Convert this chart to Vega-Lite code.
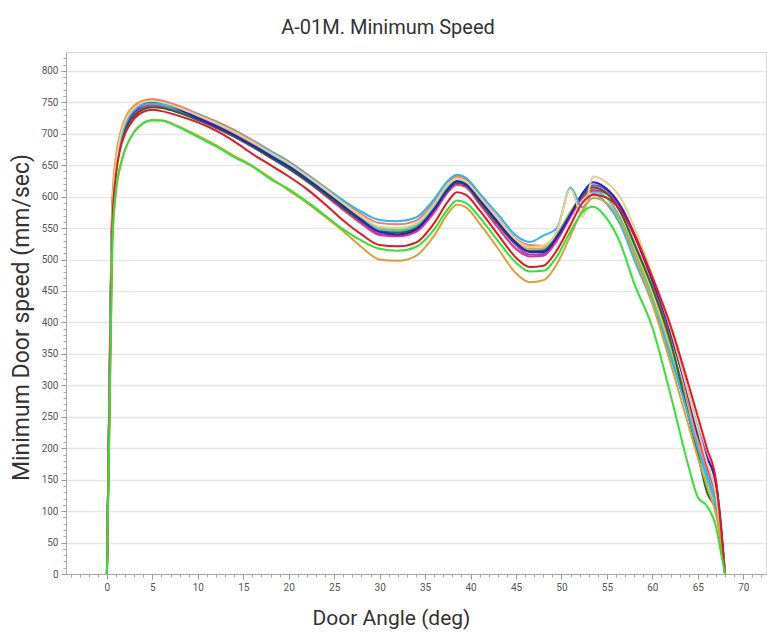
{
  "$schema": "https://vega.github.io/schema/vega-lite/v6.json",
  "width": 700,
  "height": 522,
  "autosize": "none",
  "padding": {"left": 66, "top": 52, "right": 1, "bottom": 60},
  "background": "white",
  "title": {"text": "A-01M. Minimum Speed", "font": "Roboto", "fontSize": 20, "fontWeight": "normal", "color": "#333333", "anchor": "middle", "dx": -28, "dy": 21, "baseline": "alphabetic", "offset": 19},
  "config": {"view": {"stroke": "#d8d8d8", "strokeWidth": 1}},
  "datasets": {
    "speed": [
      {"x": 0, "Khaki": 0, "Yellow": 0, "Orange": 0, "Salmon": 0, "Turquoise": 0, "Cyan": 0, "Purple": 0, "Pink": 0, "DarkGreen": 0, "Blue": 0, "Goldenrod": 0, "Red": 0, "Lime": 0},
      {"x": 0.3, "Khaki": 320, "Yellow": 300, "Orange": 335, "Salmon": 330, "Turquoise": 305, "Cyan": 310, "Purple": 310, "Pink": 305, "DarkGreen": 300, "Blue": 320, "Goldenrod": 250, "Red": 290, "Lime": 260},
      {"x": 0.6, "Khaki": 585, "Yellow": 570, "Orange": 595, "Salmon": 590, "Turquoise": 575, "Cyan": 578, "Purple": 575, "Pink": 572, "DarkGreen": 570, "Blue": 580, "Goldenrod": 525, "Red": 560, "Lime": 530},
      {"x": 1, "Khaki": 655, "Yellow": 645, "Orange": 665, "Salmon": 660, "Turquoise": 646, "Cyan": 648, "Purple": 648, "Pink": 645, "DarkGreen": 640, "Blue": 650, "Goldenrod": 608, "Red": 635, "Lime": 610},
      {"x": 1.5, "Khaki": 697, "Yellow": 688, "Orange": 703, "Salmon": 700, "Turquoise": 688, "Cyan": 690, "Purple": 690, "Pink": 686, "DarkGreen": 682, "Blue": 690, "Goldenrod": 650, "Red": 678, "Lime": 650},
      {"x": 2, "Khaki": 720, "Yellow": 712, "Orange": 725, "Salmon": 722, "Turquoise": 711, "Cyan": 714, "Purple": 713, "Pink": 708, "DarkGreen": 705, "Blue": 712, "Goldenrod": 675, "Red": 700, "Lime": 675},
      {"x": 3, "Khaki": 741, "Yellow": 736, "Orange": 745, "Salmon": 743, "Turquoise": 734, "Cyan": 737, "Purple": 737, "Pink": 731, "DarkGreen": 728, "Blue": 735, "Goldenrod": 703, "Red": 724, "Lime": 703},
      {"x": 4, "Khaki": 750, "Yellow": 746, "Orange": 753, "Salmon": 752, "Turquoise": 744, "Cyan": 746, "Purple": 748, "Pink": 742, "DarkGreen": 739, "Blue": 746, "Goldenrod": 717, "Red": 735, "Lime": 717},
      {"x": 5, "Khaki": 752, "Yellow": 748, "Orange": 755, "Salmon": 755, "Turquoise": 746, "Cyan": 748, "Purple": 752, "Pink": 745, "DarkGreen": 742, "Blue": 750, "Goldenrod": 721, "Red": 738, "Lime": 722},
      {"x": 6, "Khaki": 750, "Yellow": 746, "Orange": 752, "Salmon": 753, "Turquoise": 744, "Cyan": 747, "Purple": 750, "Pink": 743, "DarkGreen": 741, "Blue": 748, "Goldenrod": 721, "Red": 736, "Lime": 721},
      {"x": 8, "Khaki": 741, "Yellow": 738, "Orange": 742, "Salmon": 744, "Turquoise": 736, "Cyan": 740, "Purple": 740, "Pink": 734, "DarkGreen": 733, "Blue": 738, "Goldenrod": 711, "Red": 728, "Lime": 710},
      {"x": 10, "Khaki": 729, "Yellow": 727, "Orange": 729, "Salmon": 732, "Turquoise": 724, "Cyan": 730, "Purple": 727, "Pink": 722, "DarkGreen": 722, "Blue": 725, "Goldenrod": 697, "Red": 718, "Lime": 695},
      {"x": 12, "Khaki": 717, "Yellow": 715, "Orange": 716, "Salmon": 720, "Turquoise": 712, "Cyan": 718, "Purple": 713, "Pink": 709, "DarkGreen": 710, "Blue": 712, "Goldenrod": 682, "Red": 705, "Lime": 680},
      {"x": 14, "Khaki": 703, "Yellow": 701, "Orange": 701, "Salmon": 706, "Turquoise": 698, "Cyan": 704, "Purple": 698, "Pink": 695, "DarkGreen": 696, "Blue": 698, "Goldenrod": 665, "Red": 688, "Lime": 663},
      {"x": 16, "Khaki": 687, "Yellow": 686, "Orange": 685, "Salmon": 690, "Turquoise": 682, "Cyan": 688, "Purple": 681, "Pink": 679, "DarkGreen": 680, "Blue": 682, "Goldenrod": 649, "Red": 668, "Lime": 648},
      {"x": 18, "Khaki": 670, "Yellow": 670, "Orange": 668, "Salmon": 673, "Turquoise": 666, "Cyan": 672, "Purple": 664, "Pink": 662, "DarkGreen": 662, "Blue": 665, "Goldenrod": 630, "Red": 650, "Lime": 628},
      {"x": 20, "Khaki": 653, "Yellow": 653, "Orange": 650, "Salmon": 656, "Turquoise": 649, "Cyan": 655, "Purple": 646, "Pink": 644, "DarkGreen": 645, "Blue": 648, "Goldenrod": 610, "Red": 632, "Lime": 612},
      {"x": 22, "Khaki": 633, "Yellow": 633, "Orange": 630, "Salmon": 636, "Turquoise": 629, "Cyan": 635, "Purple": 626, "Pink": 624, "DarkGreen": 625, "Blue": 628, "Goldenrod": 590, "Red": 612, "Lime": 592},
      {"x": 24, "Khaki": 612, "Yellow": 611, "Orange": 608, "Salmon": 615, "Turquoise": 607, "Cyan": 614, "Purple": 604, "Pink": 602, "DarkGreen": 604, "Blue": 607, "Goldenrod": 568, "Red": 588, "Lime": 570},
      {"x": 26, "Khaki": 590, "Yellow": 589, "Orange": 586, "Salmon": 593, "Turquoise": 585, "Cyan": 594, "Purple": 582, "Pink": 579, "DarkGreen": 582, "Blue": 585, "Goldenrod": 545, "Red": 562, "Lime": 548},
      {"x": 28, "Khaki": 569, "Yellow": 567, "Orange": 565, "Salmon": 572, "Turquoise": 564, "Cyan": 576, "Purple": 560, "Pink": 557, "DarkGreen": 561, "Blue": 563, "Goldenrod": 520, "Red": 540, "Lime": 530},
      {"x": 30, "Khaki": 552, "Yellow": 549, "Orange": 550, "Salmon": 558, "Turquoise": 548, "Cyan": 563, "Purple": 541, "Pink": 539, "DarkGreen": 545, "Blue": 544, "Goldenrod": 500, "Red": 523, "Lime": 517},
      {"x": 32, "Khaki": 550, "Yellow": 546, "Orange": 548, "Salmon": 556, "Turquoise": 546, "Cyan": 561, "Purple": 538, "Pink": 537, "DarkGreen": 543, "Blue": 540, "Goldenrod": 498, "Red": 521, "Lime": 514},
      {"x": 34, "Khaki": 557, "Yellow": 552, "Orange": 555, "Salmon": 562, "Turquoise": 553, "Cyan": 567, "Purple": 546, "Pink": 544, "DarkGreen": 550, "Blue": 548, "Goldenrod": 506, "Red": 527, "Lime": 520},
      {"x": 36, "Khaki": 588, "Yellow": 583, "Orange": 586, "Salmon": 592, "Turquoise": 584, "Cyan": 596, "Purple": 578, "Pink": 575, "DarkGreen": 580, "Blue": 580, "Goldenrod": 538, "Red": 558, "Lime": 548},
      {"x": 37.5, "Khaki": 620, "Yellow": 614, "Orange": 618, "Salmon": 622, "Turquoise": 614, "Cyan": 625, "Purple": 610, "Pink": 607, "DarkGreen": 610, "Blue": 612, "Goldenrod": 573, "Red": 592, "Lime": 580},
      {"x": 38.5, "Khaki": 629, "Yellow": 624, "Orange": 630, "Salmon": 633, "Turquoise": 624, "Cyan": 635, "Purple": 622, "Pink": 619, "DarkGreen": 622, "Blue": 625, "Goldenrod": 587, "Red": 607, "Lime": 594},
      {"x": 39.5, "Khaki": 624, "Yellow": 620, "Orange": 626, "Salmon": 628, "Turquoise": 620, "Cyan": 630, "Purple": 618, "Pink": 615, "DarkGreen": 618, "Blue": 620, "Goldenrod": 583, "Red": 603, "Lime": 590},
      {"x": 41, "Khaki": 600, "Yellow": 595, "Orange": 600, "Salmon": 602, "Turquoise": 594, "Cyan": 605, "Purple": 592, "Pink": 588, "DarkGreen": 592, "Blue": 595, "Goldenrod": 557, "Red": 578, "Lime": 567},
      {"x": 43, "Khaki": 565, "Yellow": 560, "Orange": 563, "Salmon": 566, "Turquoise": 558, "Cyan": 572, "Purple": 556, "Pink": 551, "DarkGreen": 557, "Blue": 560, "Goldenrod": 518, "Red": 540, "Lime": 530},
      {"x": 45, "Khaki": 532, "Yellow": 526, "Orange": 528, "Salmon": 533, "Turquoise": 524, "Cyan": 538, "Purple": 523, "Pink": 517, "DarkGreen": 525, "Blue": 527, "Goldenrod": 478, "Red": 503, "Lime": 495},
      {"x": 46.5, "Khaki": 520, "Yellow": 516, "Orange": 517, "Salmon": 523, "Turquoise": 514, "Cyan": 528, "Purple": 508, "Pink": 505, "DarkGreen": 513, "Blue": 512, "Goldenrod": 464, "Red": 488, "Lime": 481},
      {"x": 48, "Khaki": 522, "Yellow": 517, "Orange": 518, "Salmon": 522, "Turquoise": 515, "Cyan": 538, "Purple": 509, "Pink": 506, "DarkGreen": 514, "Blue": 512, "Goldenrod": 467, "Red": 490, "Lime": 482},
      {"x": 49.5, "Khaki": 545, "Yellow": 540, "Orange": 538, "Salmon": 540, "Turquoise": 538, "Cyan": 550, "Purple": 533, "Pink": 530, "DarkGreen": 537, "Blue": 535, "Goldenrod": 493, "Red": 515, "Lime": 505},
      {"x": 51, "Khaki": 612, "Yellow": 577, "Orange": 572, "Salmon": 575, "Turquoise": 574, "Cyan": 614, "Purple": 570, "Pink": 568, "DarkGreen": 572, "Blue": 572, "Goldenrod": 538, "Red": 555, "Lime": 545},
      {"x": 52.3, "Khaki": 568, "Yellow": 603, "Orange": 598, "Salmon": 600, "Turquoise": 600, "Cyan": 583, "Purple": 603, "Pink": 598, "DarkGreen": 602, "Blue": 605, "Goldenrod": 578, "Red": 590, "Lime": 575},
      {"x": 53.5, "Khaki": 632, "Yellow": 612, "Orange": 608, "Salmon": 612, "Turquoise": 608, "Cyan": 605, "Purple": 618, "Pink": 610, "DarkGreen": 615, "Blue": 623, "Goldenrod": 598, "Red": 603, "Lime": 584},
      {"x": 55, "Khaki": 622, "Yellow": 606, "Orange": 598, "Salmon": 605, "Turquoise": 598, "Cyan": 588, "Purple": 610, "Pink": 605, "DarkGreen": 605, "Blue": 612, "Goldenrod": 590, "Red": 598, "Lime": 565},
      {"x": 56.5, "Khaki": 598, "Yellow": 578, "Orange": 565, "Salmon": 575, "Turquoise": 565, "Cyan": 555, "Purple": 585, "Pink": 580, "DarkGreen": 575, "Blue": 585, "Goldenrod": 560, "Red": 578, "Lime": 525},
      {"x": 58, "Khaki": 552, "Yellow": 525, "Orange": 515, "Salmon": 528, "Turquoise": 512, "Cyan": 500, "Purple": 542, "Pink": 538, "DarkGreen": 525, "Blue": 540, "Goldenrod": 508, "Red": 540, "Lime": 462},
      {"x": 60, "Khaki": 475, "Yellow": 445, "Orange": 440, "Salmon": 455, "Turquoise": 438, "Cyan": 430, "Purple": 470, "Pink": 465, "DarkGreen": 455, "Blue": 468, "Goldenrod": 430, "Red": 472, "Lime": 392},
      {"x": 62, "Khaki": 390, "Yellow": 355, "Orange": 350, "Salmon": 365, "Turquoise": 350, "Cyan": 345, "Purple": 388, "Pink": 380, "DarkGreen": 370, "Blue": 385, "Goldenrod": 335, "Red": 395, "Lime": 285},
      {"x": 64, "Khaki": 285, "Yellow": 255, "Orange": 255, "Salmon": 268, "Turquoise": 250, "Cyan": 250, "Purple": 285, "Pink": 280, "DarkGreen": 250, "Blue": 280, "Goldenrod": 235, "Red": 300, "Lime": 170},
      {"x": 65, "Khaki": 230, "Yellow": 198, "Orange": 205, "Salmon": 215, "Turquoise": 198, "Cyan": 200, "Purple": 232, "Pink": 225, "DarkGreen": 190, "Blue": 222, "Goldenrod": 185, "Red": 250, "Lime": 122},
      {"x": 66, "Khaki": 178, "Yellow": 152, "Orange": 158, "Salmon": 165, "Turquoise": 150, "Cyan": 158, "Purple": 188, "Pink": 172, "DarkGreen": 130, "Blue": 185, "Goldenrod": 140, "Red": 200, "Lime": 108},
      {"x": 67, "Khaki": 125, "Yellow": 106, "Orange": 112, "Salmon": 118, "Turquoise": 105, "Cyan": 110, "Purple": 140, "Pink": 122, "DarkGreen": 100, "Blue": 145, "Goldenrod": 95, "Red": 148, "Lime": 75},
      {"x": 67.6, "Khaki": 55, "Yellow": 50, "Orange": 50, "Salmon": 52, "Turquoise": 48, "Cyan": 50, "Purple": 62, "Pink": 55, "DarkGreen": 45, "Blue": 70, "Goldenrod": 45, "Red": 65, "Lime": 30},
      {"x": 68, "Khaki": 0, "Yellow": 0, "Orange": 0, "Salmon": 0, "Turquoise": 0, "Cyan": 0, "Purple": 0, "Pink": 0, "DarkGreen": 0, "Blue": 0, "Goldenrod": 0, "Red": 0, "Lime": 0}
    ],
    "origin": [{"x": 0, "v": 0}]
  },
  "layer": [
    {
      "data": {"name": "speed"},
      "transform": [{"fold": ["Yellow", "Orange", "Salmon", "Turquoise", "Purple", "Pink", "DarkGreen", "Blue", "Cyan", "Khaki", "Goldenrod", "Red", "Lime"], "as": ["series", "speed"]}],
      "mark": {"type": "line", "strokeWidth": 2, "interpolate": "monotone", "clip": true},
      "encoding": {
        "x": {
          "field": "x", "type": "quantitative",
          "scale": {"domain": [-4.5, 72.5], "nice": false, "zero": false},
          "axis": {
            "values": [0, 5, 10, 15, 20, 25, 30, 35, 40, 45, 50, 55, 60, 65, 70],
            "grid": false, "tickSize": 5, "tickColor": "#999999", "domainColor": "#aaaaaa",
            "labelFont": "Roboto", "labelFontSize": 10, "labelColor": "#555555", "labelPadding": 3,
            "title": "Door Angle (deg)", "titleFont": "Roboto", "titleFontSize": 21, "titleFontWeight": "normal",
            "titleColor": "#333333", "titleX": 325, "titleY": 50, "titleBaseline": "alphabetic", "titleAlign": "center"
          }
        },
        "y": {
          "field": "speed", "type": "quantitative",
          "scale": {"domain": [0, 830], "nice": false},
          "axis": {
            "values": [0, 50, 100, 150, 200, 250, 300, 350, 400, 450, 500, 550, 600, 650, 700, 750, 800],
            "grid": true, "gridColor": "#e6e6e6", "gridWidth": 1.5,
            "tickSize": 5, "tickColor": "#999999", "domainColor": "#aaaaaa",
            "labelFont": "Roboto", "labelFontSize": 10, "labelColor": "#555555", "labelPadding": 3,
            "title": "Minimum Door speed (mm/sec)", "titleFont": "Roboto", "titleFontSize": 23, "titleFontWeight": "normal",
            "titleColor": "#333333", "titleX": -38, "titleY": 265, "titleBaseline": "alphabetic", "titleAlign": "center"
          }
        },
        "color": {
          "field": "series", "type": "nominal", "legend": null,
          "scale": {
            "domain": ["Yellow", "Orange", "Salmon", "Turquoise", "Purple", "Pink", "DarkGreen", "Blue", "Cyan", "Khaki", "Goldenrod", "Red", "Lime"],
            "range": ["#f2e21c", "#f5a23c", "#f0806a", "#2fd6cc", "#9a3fc8", "#f0288e", "#1f6e2a", "#2222cc", "#2eb4ee", "#e6cf86", "#d9a236", "#ea1420", "#33e233"]
          }
        }
      }
    },
    {
      "data": {"name": "origin"},
      "mark": {"type": "point", "opacity": 0},
      "encoding": {
        "x": {
          "field": "x", "type": "quantitative",
          "scale": {"domain": [-4.5, 72.5], "nice": false, "zero": false},
          "axis": {
            "orient": "bottom",
            "values": [-4, -3, -2, -1, 1, 2, 3, 4, 6, 7, 8, 9, 11, 12, 13, 14, 16, 17, 18, 19, 21, 22, 23, 24, 26, 27, 28, 29, 31, 32, 33, 34, 36, 37, 38, 39, 41, 42, 43, 44, 46, 47, 48, 49, 51, 52, 53, 54, 56, 57, 58, 59, 61, 62, 63, 64, 66, 67, 68, 69, 71, 72],
            "labels": false, "domain": false, "grid": false, "tickSize": 3, "tickColor": "#aaaaaa", "title": null
          }
        },
        "y": {
          "field": "v", "type": "quantitative",
          "scale": {"domain": [0, 830], "nice": false},
          "axis": {
            "orient": "left",
            "values": [10, 20, 30, 40, 60, 70, 80, 90, 110, 120, 130, 140, 160, 170, 180, 190, 210, 220, 230, 240, 260, 270, 280, 290, 310, 320, 330, 340, 360, 370, 380, 390, 410, 420, 430, 440, 460, 470, 480, 490, 510, 520, 530, 540, 560, 570, 580, 590, 610, 620, 630, 640, 660, 670, 680, 690, 710, 720, 730, 740, 760, 770, 780, 790, 810, 820],
            "labels": false, "domain": false, "grid": false, "tickSize": 3, "tickColor": "#aaaaaa", "title": null
          }
        }
      }
    }
  ],
  "resolve": {"axis": {"x": "independent", "y": "independent"}}
}
